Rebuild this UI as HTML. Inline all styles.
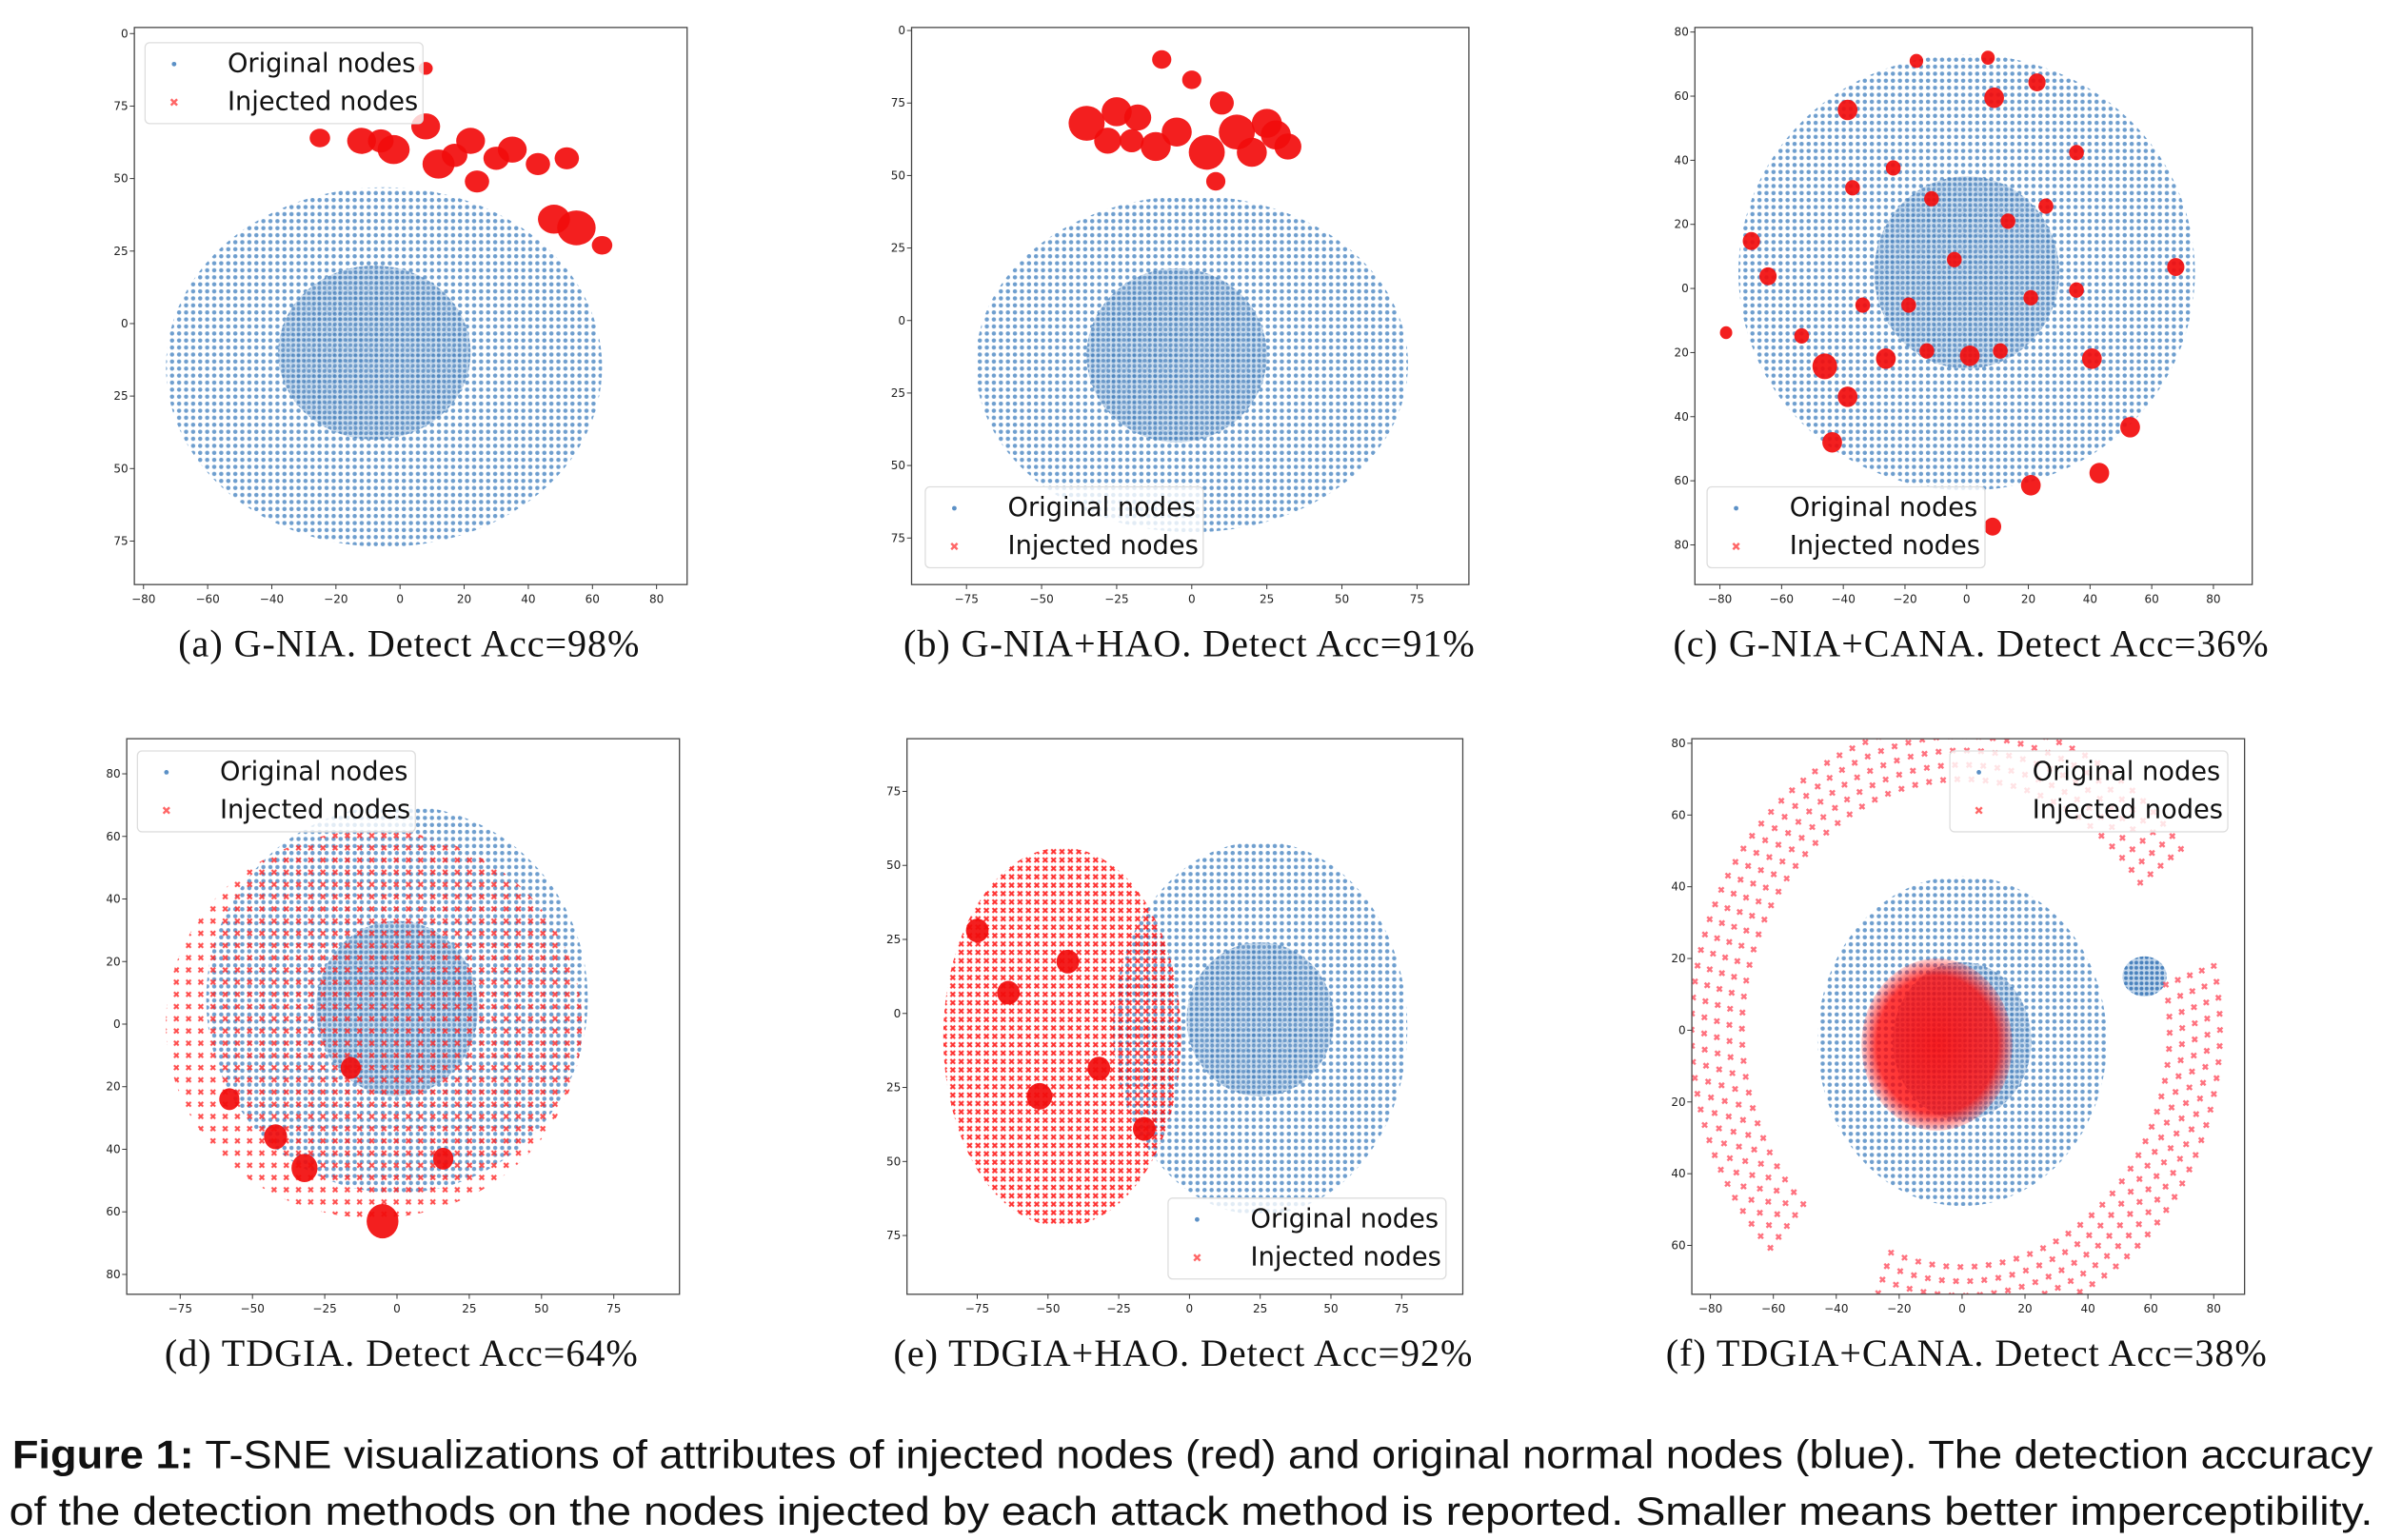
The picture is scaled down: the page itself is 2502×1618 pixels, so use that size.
<!DOCTYPE html>
<html><head><meta charset="utf-8"><style>
html,body{margin:0;padding:0;background:#fff}
svg{display:block}
</style></head><body>
<svg id="fig" xmlns="http://www.w3.org/2000/svg" width="2502" height="1618" viewBox="0 0 1560 1009" preserveAspectRatio="none">
<defs>
<pattern id="bdots" width="4.6" height="4.6" patternUnits="userSpaceOnUse"><circle cx="2.3" cy="2.3" r="1.4" fill="#4a86c2" opacity="0.8"/></pattern>
<pattern id="bdots2" width="3.4" height="3.4" patternUnits="userSpaceOnUse"><rect width="3.4" height="3.4" fill="#c4d8ec"/><circle cx="1.7" cy="1.7" r="1.25" fill="#4a82bd"/></pattern>
<pattern id="rx" width="8" height="8" patternUnits="userSpaceOnUse"><path d="M2,2 L5,5 M5,2 L2,5" stroke="#f22" stroke-width="1.3"/></pattern>
<pattern id="rx2" width="5.5" height="5.5" patternUnits="userSpaceOnUse"><path d="M1,1 L4,4 M4,1 L1,4" stroke="#f00" stroke-width="1.3"/></pattern>
<radialGradient id="rcore"><stop offset="0" stop-color="#f00" stop-opacity="0.95"/><stop offset="0.8" stop-color="#f00" stop-opacity="0.85"/><stop offset="1" stop-color="#f00" stop-opacity="0.2"/></radialGradient>
</defs>
<g id="panels"></g>
<g font-family="'Liberation Serif', serif" font-size="25" fill="#111" text-anchor="middle" letter-spacing="0.6">
<text x="268" y="430">(a)  G-NIA. Detect Acc=98%</text>
<text x="779" y="430">(b)  G-NIA+HAO. Detect Acc=91%</text>
<text x="1291" y="430">(c)  G-NIA+CANA. Detect Acc=36%</text>
<text x="263" y="895">(d)  TDGIA. Detect Acc=64%</text>
<text x="775" y="895">(e)  TDGIA+HAO. Detect Acc=92%</text>
<text x="1288" y="895">(f)  TDGIA+CANA. Detect Acc=38%</text>
</g>
<g font-family="'Liberation Sans', 'DejaVu Sans', sans-serif" font-size="26" fill="#111">
<text x="8" y="962" textLength="1546" lengthAdjust="spacingAndGlyphs"><tspan font-weight="bold">Figure 1:</tspan> T-SNE visualizations of attributes of injected nodes (red) and original normal nodes (blue). The detection accuracy</text>
<text x="6" y="999" textLength="1548" lengthAdjust="spacingAndGlyphs">of the detection methods on the nodes injected by each attack method is reported. Smaller means better imperceptibility.</text>
</g>
</svg>
<script>
// ---- data (data units) ----
const cloudX = [-5, 0, 0, 0, 25, 0];
const cloudY = [-15, -15, 5, 8, -5, -3];
const cloudRX = [68, 72, 74, 66, 52, 46];
const cloudRY = [62, 58, 68, 62, 63, 46];
const coreX = [-8, -5, 0, 0, 25, 0];
const coreY = [-10, -12, 5, 5, -2, -3];
const coreR = [30, 30, 30, 28, 26, 22];
const redX = [
 [-25,-12,-2,8,12,22,24,35,43,52,55,63,8,-6,17,30,48],
 [-35,-28,-18,-10,0,-5,5,10,15,25,32,8,-20,-25,-12,20,28],
 [-69.8,-64.4,-38.6,-16.3,6.9,8.9,22.8,-46,-38.6,-43.6,-26.2,-12.9,1,10.9,40.6,53,43,20.8,8.4,67.8,35.6,-18.8,-33.7,-4,20.8,-53.5,-11.4,-23.8,13.4,25.7,35.6,-37,-78],
 [-5,-32,-42,-58,16,-16],
 [-75,-64,-43,-32,-16,-53],
 [-8]
];
const redY = [
 [64,63,60,68,55,63,49,60,55,57,33,27,88,63,58,57,36],
 [68,62,70,90,83,65,58,75,65,68,60,48,62,72,60,58,64],
 [14.8,3.8,55.7,71,72,59.5,64.3,-24.3,-33.8,-48,-21.9,-19.5,-21,-19.5,-21.9,-43.3,-57.6,-61.4,-74.3,6.7,-0.5,-5.2,-5.2,9,-2.9,-14.8,28,37.6,21,25.7,42.4,31.4,-13.8],
 [-63,-46,-36,-24,-43,-14],
 [28,7,17.5,-18.6,-39,-28],
 [-4]
];
const redR = [
 [3.2,4.5,5,4.5,5,4.5,3.8,4.5,3.8,3.8,6,3.2,2.2,4,4,4,5],
 [6,4.5,4.5,3.2,3.2,5,6,4,6,5,4.5,3.2,4,5,5,5,5],
 [2.8,2.8,3.2,2.2,2.2,3.2,2.8,4,3.2,3.2,3.2,2.4,3.2,2.4,3.2,3.2,3.2,3.2,2.8,2.8,2.4,2.4,2.4,2.4,2.4,2.4,2.4,2.4,2.4,2.4,2.4,2.4,2],
 [5.5,4.5,4,3.5,3.5,3.5],
 [4,4,4,4,4,4.5],
 [24]
];
const sparseX = [null, null, null, -8, -45, null];
const sparseY = [null, null, null, 0, -8, null];
const sparseRX = [null, null, null, 72, 42, null];
const sparseRY = [null, null, null, 62, 64, null];
const arcStart = [36, 250];
const arcEnd = [225, 375];
const arcRIn = [70, 66];
const arcROut = [86, 82];
const fBlobX = [58], fBlobY = [15], fBlobR = [7];
const xTicks = [[-80,-60,-40,-20,0,20,40,60,80],[-75,-50,-25,0,25,50,75],[-80,-60,-40,-20,0,20,40,60,80],[-75,-50,-25,0,25,50,75],[-75,-50,-25,0,25,50,75],[-80,-60,-40,-20,0,20,40,60,80]];
const yTicks = [[100,75,50,25,0,-25,-50,-75],[100,75,50,25,0,-25,-50,-75],[80,60,40,20,0,-20,-40,-60,-80],[80,60,40,20,0,-20,-40,-60,-80],[75,50,25,0,-25,-50,-75],[80,60,40,20,0,-20,-40,-60]];
const panelNames = ['a','b','c','d','e','f'];
const L = [
 {l:88,r:450,t:18,b:383,x0:262,xs:2.1,y0:212,ys:1.9,leg:[95,28]},
 {l:597,r:962,t:18,b:383,x0:780.5,xs:1.967,y0:210,ys:1.9,leg:[606,319]},
 {l:1110,r:1475,t:18,b:383,x0:1288,xs:2.02,y0:189,ys:2.1,leg:[1118,319]},
 {l:83,r:445,t:484,b:848,x0:260,xs:1.893,y0:671,ys:2.05,leg:[90,492]},
 {l:594,r:958,t:484,b:848,x0:779,xs:1.853,y0:664,ys:1.94,leg:[765,785]},
 {l:1108,r:1470,t:484,b:848,x0:1285,xs:2.06,y0:675,ys:2.35,leg:[1277,492]}
];
const NS='http://www.w3.org/2000/svg';
function mk(tag, attrs, parent){const e=document.createElementNS(NS,tag);for(const k in attrs)e.setAttribute(k,attrs[k]);parent.appendChild(e);return e;}
const root=document.getElementById('panels');
L.forEach((p,i)=>{
 const sx=v=>p.x0+v*p.xs, sy=v=>p.y0-v*p.ys;
 const g=mk('g',{},root);
 
 
 const cp=mk('clipPath',{id:'cp'+i},g);
 mk('rect',{x:p.l,y:p.t,width:p.r-p.l,height:p.b-p.t},cp);
 const plot=mk('g',{'clip-path':'url(#cp'+i+')'},g);
 
 
 const cl=mk('ellipse',{cx:sx(cloudX[i]),cy:sy(cloudY[i]),rx:cloudRX[i]*p.xs,ry:cloudRY[i]*p.ys,fill:'url(#bdots)'},plot);
 
 
 const co=mk('ellipse',{cx:sx(coreX[i]),cy:sy(coreY[i]),rx:coreR[i]*p.xs,ry:coreR[i]*p.ys,fill:'url(#bdots2)',opacity:0.8},plot);
 
 
 if(i===5){
  fBlobX.forEach((v,k)=>{const b=mk('ellipse',{cx:sx(v),cy:sy(fBlobY[k]),rx:fBlobR[k]*p.xs,ry:fBlobR[k]*p.ys*0.8,fill:'url(#bdots2)'},plot);
   
   });
 }
 if(sparseX[i]!==null){
  const s=mk('ellipse',{cx:sx(sparseX[i]),cy:sy(sparseY[i]),rx:sparseRX[i]*p.xs,ry:sparseRY[i]*p.ys,fill:i===4?'url(#rx2)':'url(#rx)',opacity:0.8},plot);
  
  
 }
 redX[i].forEach((v,k)=>{
  const c=mk('ellipse',{cx:sx(v),cy:sy(redY[i][k]),rx:redR[i][k]*p.xs,ry:redR[i][k]*p.ys,fill:i===5?'url(#rcore)':'#f20c0c',opacity:i===5?0.9:0.92},plot);
  
  
 });
 if(i===5){
  arcStart.forEach((a0,k)=>{
   for(let r=arcRIn[k];r<=arcROut[k];r+=4){
    const step=360/(2*Math.PI*r/4.5);
    for(let a=a0;a<=arcEnd[k];a+=step){
     const rad=a*Math.PI/180, x=sx(r*Math.cos(rad)), y=sy(r*Math.sin(rad));
     const m=mk('path',{d:`M${x-1.6},${y-1.6}L${x+1.6},${y+1.6}M${x+1.6},${y-1.6}L${x-1.6},${y+1.6}`,stroke:'#f45',"stroke-width":1.5,opacity:0.75},plot);
     
     
    }
   }
  });
 }
 const fr=mk('rect',{x:p.l,y:p.t,width:p.r-p.l,height:p.b-p.t,fill:'none',stroke:'#444','stroke-width':0.8},g);
 
 
 xTicks[i].forEach(v=>{
  const x=sx(v);
  mk('line',{x1:x,x2:x,y1:p.b,y2:p.b+3,stroke:'#333','stroke-width':0.6},g);
  const t=mk('text',{x:x,y:p.b+12,'font-size':7.5,'text-anchor':'middle','font-family':"'DejaVu Sans', sans-serif",fill:'#222'},g);
  t.textContent=v<0?'\u2212'+(-v):String(v);
  
  
 });
 yTicks[i].forEach(v=>{
  const y=sy(v);
  mk('line',{x1:p.l-3,x2:p.l,y1:y,y2:y,stroke:'#333','stroke-width':0.6},g);
  const t=mk('text',{x:p.l-4,y:y+2.5,'font-size':7.5,'text-anchor':'end','font-family':"'DejaVu Sans', sans-serif",fill:'#222'},g);
  t.textContent=String(Math.abs(v)%100);
  
  
 });
 const [lx,ly]=p.leg;
 const lg=mk('g',{},g);
 
 
 mk('rect',{x:lx,y:ly,width:182,height:53,rx:3,fill:'#fff','fill-opacity':0.8,stroke:'#ddd','stroke-width':0.8},lg);
 mk('circle',{cx:lx+19,cy:ly+14,r:1.5,fill:'#5b90c6'},lg);
 const rxm=lx+19, rym=ly+39;
 mk('path',{d:`M${rxm-2},${rym-2}L${rxm+2},${rym+2}M${rxm+2},${rym-2}L${rxm-2},${rym+2}`,stroke:'#f66','stroke-width':1.5},lg);
 const t1=mk('text',{x:lx+54,y:ly+19,'font-size':17,'font-family':"'DejaVu Sans', sans-serif",fill:'#111'},lg);
 t1.textContent='Original nodes';
 
 
 const t2=mk('text',{x:lx+54,y:ly+44,'font-size':17,'font-family':"'DejaVu Sans', sans-serif",fill:'#111'},lg);
 t2.textContent='Injected nodes';
 
 
});
</script>
</body></html>
